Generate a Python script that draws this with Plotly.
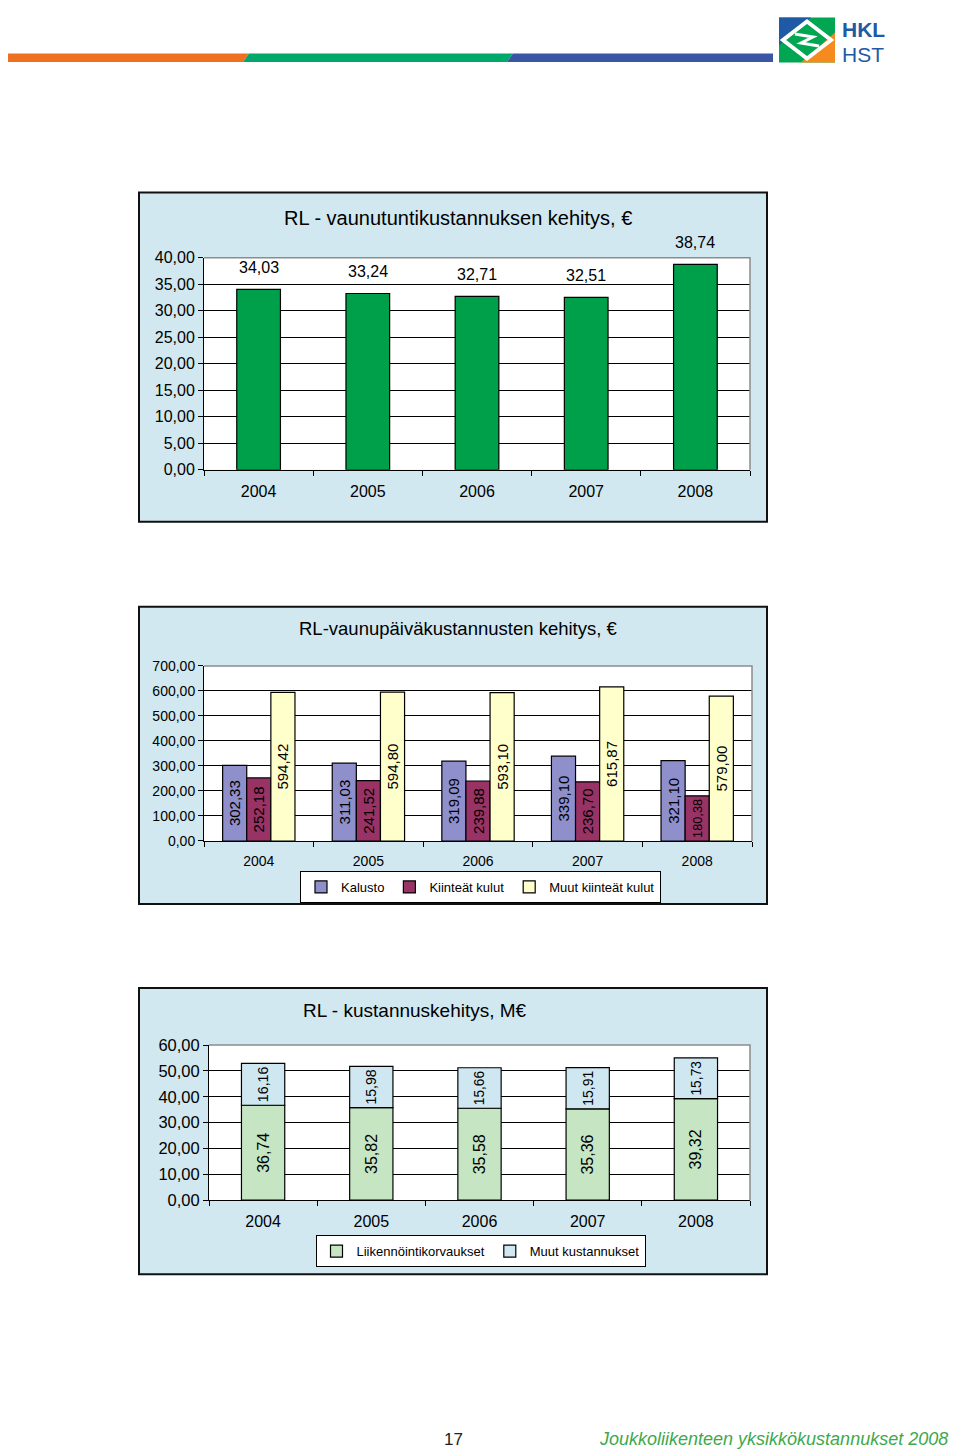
import plotly.graph_objects as go

# ---------------- data ----------------
years = ["2004", "2005", "2006", "2007", "2008"]

hourly_cost = [34.03, 33.24, 32.71, 32.51, 38.74]

kalusto = [302.33, 311.03, 319.09, 339.10, 321.10]
kiinteat_kulut = [252.18, 241.52, 239.88, 236.70, 180.38]
muut_kiinteat_kulut = [594.42, 594.80, 593.10, 615.87, 579.00]

liikennointikorvaukset = [36.74, 35.82, 35.58, 35.36, 39.32]
muut_kustannukset = [16.16, 15.98, 15.66, 15.91, 15.73]

y1_tickvals = [0, 5, 10, 15, 20, 25, 30, 35, 40]
y1_ticktext = ["0,00", "5,00", "10,00", "15,00", "20,00", "25,00", "30,00", "35,00", "40,00"]
y2_tickvals = [0, 100, 200, 300, 400, 500, 600, 700]
y2_ticktext = ["0,00", "100,00", "200,00", "300,00", "400,00", "500,00", "600,00", "700,00"]
y3_tickvals = [0, 10, 20, 30, 40, 50, 60]
y3_ticktext = ["0,00", "10,00", "20,00", "30,00", "40,00", "50,00", "60,00"]

title1 = "RL - vaunutuntikustannuksen kehitys, €"
title2 = "RL-vaunupäiväkustannusten kehitys, €"
title3 = "RL - kustannuskehitys, M€"

# ---------------- helpers ----------------
OFF = 8            # page body margin of the html page
W, H = 944, 1450
SY, OY = 0.987, 8.6  # observed vertical mapping page -> picture
FONT = "Liberation Sans, Arial, Helvetica, sans-serif"


def X(px):
    return (px - OFF) / W


def Y(py):
    page = (py - OY) / SY
    return 1 - (page - OFF) / H


def fmt(v):
    return f"{v:.2f}".replace(".", ",")


def poly(pts):
    return "M " + " L ".join(f"{X(a):.5f},{Y(b):.5f}" for a, b in pts) + " Z"


GREEN = "#00A04A"
PANEL = "#D1E8F0"
C_KAL = "#8F8FCC"
C_KII = "#993366"
C_MUU = "#FFFFCC"
C_LII = "#C6E5C2"
C_MKU = "#CFE7F0"
EDGE = dict(color="black", width=1.2)

fig = go.Figure()

# chart 1
fig.add_trace(go.Bar(
    x=years, y=hourly_cost, xaxis="x", yaxis="y", width=0.4,
    marker=dict(color=GREEN, line=EDGE), showlegend=False, hoverinfo="x+y",
))

# chart 2
for name, vals, col in [("Kalusto", kalusto, C_KAL),
                        ("Kiinteät kulut", kiinteat_kulut, C_KII),
                        ("Muut kiinteät kulut", muut_kiinteat_kulut, C_MUU)]:
    fig.add_trace(go.Bar(
        x=years, y=vals, name=name, xaxis="x2", yaxis="y2",
        marker=dict(color=col, line=EDGE),
        text=[fmt(v) for v in vals], textposition="inside", textangle=-90,
        insidetextanchor="middle",
        insidetextfont=dict(size=15, color="black", family=FONT),
        legend="legend",
    ))

# chart 3 (stacked via shared offsetgroup + base)
fig.add_trace(go.Bar(
    x=years, y=liikennointikorvaukset, name="Liikennöintikorvaukset",
    xaxis="x3", yaxis="y3", width=0.4, offsetgroup="s",
    marker=dict(color=C_LII, line=EDGE),
    text=[fmt(v) for v in liikennointikorvaukset], textposition="inside",
    textangle=-90, insidetextanchor="middle",
    insidetextfont=dict(size=16, color="black", family=FONT),
    legend="legend2",
))
fig.add_trace(go.Bar(
    x=years, y=muut_kustannukset, base=liikennointikorvaukset,
    name="Muut kustannukset",
    xaxis="x3", yaxis="y3", width=0.4, offsetgroup="s",
    marker=dict(color=C_MKU, line=EDGE),
    text=[fmt(v) for v in muut_kustannukset], textposition="inside",
    textangle=-90, insidetextanchor="middle",
    insidetextfont=dict(size=16, color="black", family=FONT),
    legend="legend2",
))


def xaxis_cfg(x0, x1, anchor, size):
    return dict(domain=[X(x0), X(x1)], type="category", range=[-0.5, 4.5],
                anchor=anchor, showline=True, linecolor="black", linewidth=1,
                ticks="outside", tickson="boundaries", ticklen=5,
                tickcolor="black", showgrid=False, ticklabelstandoff=7,
                tickfont=dict(size=size, color="black", family=FONT),
                fixedrange=True)


def yaxis_cfg(top, bottom, rng, tv, tt, anchor, size):
    return dict(domain=[Y(bottom), Y(top)], range=rng, anchor=anchor,
                tickvals=tv, ticktext=tt, showgrid=True, gridcolor="black",
                gridwidth=1, showline=True, linecolor="black", linewidth=1,
                ticks="outside", ticklen=5, tickcolor="black", zeroline=False,
                tickfont=dict(size=size, color="black", family=FONT),
                fixedrange=True)


# plot areas (picture pixels)
P1 = (204, 750, 257, 469)
P2 = (204, 752, 665, 840)
P3 = (209, 750, 1044, 1199)

shapes = []
# header stripes
shapes.append(dict(type="path", xref="paper", yref="paper", layer="below",
                   path=poly([(8, 53), (249, 53), (243, 61.5), (8, 61.5)]),
                   fillcolor="#F07022", line=dict(width=0)))
shapes.append(dict(type="path", xref="paper", yref="paper", layer="below",
                   path=poly([(249, 53), (513, 53), (507, 61.5), (243, 61.5)]),
                   fillcolor="#00A86B", line=dict(width=0)))
shapes.append(dict(type="path", xref="paper", yref="paper", layer="below",
                   path=poly([(513, 53), (773, 53), (773, 61.5), (507, 61.5)]),
                   fillcolor="#3A55A4", line=dict(width=0)))
# logo (top rows of the page are not reachable, so it starts a bit lower)
LT, LB, LL, LR = 17, 62, 779, 835
LM = (LL + LR) / 2
LC = (LT + LB) / 2
shapes.append(dict(type="rect", xref="paper", yref="paper", layer="below",
                   x0=X(LL), x1=X(LR), y0=Y(LB), y1=Y(LT),
                   fillcolor="#00A651", line=dict(width=0)))
shapes.append(dict(type="path", xref="paper", yref="paper", layer="below",
                   path=poly([(LL, LT), (LL + 32, LT), (LL, LT + 28)]),
                   fillcolor="#1F5AA6", line=dict(width=0)))
shapes.append(dict(type="path", xref="paper", yref="paper", layer="below",
                   path=poly([(LR, LB - 30), (LR, LB), (LR - 34, LB)]),
                   fillcolor="#F58A1F", line=dict(width=0)))
shapes.append(dict(type="path", xref="paper", yref="paper", layer="below",
                   path=poly([(LM, LT + 4), (LR - 4, LC), (LM, LB - 4), (LL + 4, LC)]),
                   fillcolor="rgba(0,0,0,0)", line=dict(color="white", width=4)))
shapes.append(dict(type="path", xref="paper", yref="paper", layer="below",
                   path="M %f,%f L %f,%f L %f,%f L %f,%f" % (
                       X(LM - 12), Y(LC - 6), X(LM + 6), Y(LC - 3),
                       X(LM - 6), Y(LC + 3), X(LM + 12), Y(LC + 6)),
                   line=dict(color="white", width=3)))

# panels and plot areas
for (px0, py0, px1, py1), (ax0, ax1, ay0, ay1) in [
        ((139, 192, 767, 521), P1),
        ((139, 606, 767, 903), P2),
        ((139, 987, 767, 1273), P3)]:
    shapes.append(dict(type="rect", xref="paper", yref="paper", layer="below",
                       x0=X(px0), x1=X(px1), y0=Y(py1), y1=Y(py0),
                       fillcolor=PANEL, line=dict(color="#111111", width=2)))
    shapes.append(dict(type="rect", xref="paper", yref="paper", layer="below",
                       x0=X(ax0), x1=X(ax1), y0=Y(ay1), y1=Y(ay0),
                       fillcolor="white", line=dict(width=0)))
    # gray top and right border of plot area
    shapes.append(dict(type="path", xref="paper", yref="paper", layer="above",
                       path="M %f,%f L %f,%f L %f,%f" % (
                           X(ax0), Y(ay0), X(ax1), Y(ay0), X(ax1), Y(ay1)),
                       line=dict(color="#8C8C8C", width=1.5)))

annotations = []


def ptext(text, px, py, size, color="black", xanchor="center", family=FONT):
    return dict(text=text, x=X(px), y=Y(py), xref="paper", yref="paper",
                xanchor=xanchor, yanchor="middle", showarrow=False,
                font=dict(size=size, color=color, family=family))


# titles
annotations.append(ptext(title1, 458, 217, 20))
annotations.append(ptext(title2, 458, 628, 18.5))
annotations.append(ptext(title3, 415, 1009, 19))
# chart 1 value labels (category index positions)
for i, v in enumerate(hourly_cost):
    annotations.append(dict(text=fmt(v), x=i, y=v, xref="x", yref="y",
                            xanchor="center", yanchor="bottom", yshift=11,
                            showarrow=False,
                            font=dict(size=16, color="black", family=FONT)))
# logo text
LOGO_FONT = "Liberation Sans Narrow, Arial Narrow, Liberation Sans, Arial"
annotations.append(ptext("<b>HKL</b>", 840, 28.5, 21, "#1F5AA6", "left", LOGO_FONT))
annotations.append(ptext("HST", 840, 54, 21, "#1F5AA6", "left", LOGO_FONT))
# footer
annotations.append(ptext("17", 453, 1438, 17, "#222222"))
annotations.append(ptext("<i>Joukkoliikenteen yksikkökustannukset 2008</i>",
                         950, 1438, 18, "#3DA94A", "right"))

legend_common = dict(orientation="h", xanchor="center", yanchor="middle",
                     bgcolor="white", bordercolor="black", borderwidth=1,
                     font=dict(size=13, color="black", family=FONT),
                     itemwidth=30, tracegroupgap=0)

fig.update_layout(
    width=W, height=H, autosize=False,
    margin=dict(l=0, r=0, t=0, b=0, pad=0),
    paper_bgcolor="white", plot_bgcolor="white",
    font=dict(family=FONT, color="black"),
    barmode="group", bargap=0.34, bargroupgap=0,
    xaxis=xaxis_cfg(P1[0], P1[1], "y", 16),
    yaxis=yaxis_cfg(P1[2], P1[3], [0, 40], y1_tickvals, y1_ticktext, "x", 16),
    xaxis2=xaxis_cfg(P2[0], P2[1], "y2", 14),
    yaxis2=yaxis_cfg(P2[2], P2[3], [0, 700], y2_tickvals, y2_ticktext, "x2", 14),
    xaxis3=xaxis_cfg(P3[0], P3[1], "y3", 16),
    yaxis3=yaxis_cfg(P3[2], P3[3], [0, 60], y3_tickvals, y3_ticktext, "x3", 16.5),
    legend=dict(x=X(480.5), y=Y(886), **legend_common),
    legend2=dict(x=X(480.5), y=Y(1250), **legend_common),
    shapes=shapes,
    annotations=annotations,
    showlegend=True,
)

fig.write_html("out.html")
